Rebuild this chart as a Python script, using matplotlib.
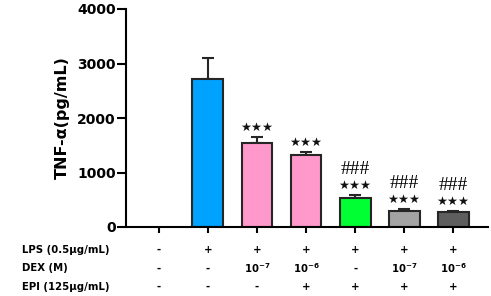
import matplotlib
matplotlib.use("Agg")
import matplotlib.pyplot as plt
import numpy as np

plt.rcParams['font.family'] = ['DejaVu Sans']
plt.rcParams['mathtext.fontset'] = 'dejavusans'

# data
means = [0, 2716, 1541, 1321, 538, 300, 270]
errors = [0, 385, 116, 49, 49, 36, 30]
colors = ['#FFFFFF', '#00A2FF', '#FF99CC', '#FF99CC', '#00FF33', '#A3A3A3', '#5E5E5E']
stars = ['', '', '★★★', '★★★', '★★★', '★★★', '★★★']
hashes = ['', '', '', '', '###', '###', '###']
row_names = ['LPS (0.5μg/mL)', 'DEX (M)', 'EPI (125μg/mL)']
lps = ['-', '+', '+', '+', '+', '+', '+']
dex = ['-', '-', r'$\mathbf{10^{-7}}$', r'$\mathbf{10^{-6}}$', '-', r'$\mathbf{10^{-7}}$', r'$\mathbf{10^{-6}}$']
epi = ['-', '-', '-', '+', '+', '+', '+']
yticks = [0, 1000, 2000, 3000, 4000]

fig = plt.figure(figsize=(4.91, 2.96), dpi=100)
ax = fig.add_axes([126/491, 69/296, (488-126)/491, 218/296])
x = np.arange(len(means))
mask = [i for i in x if means[i] > 0]
ax.bar([x[i] for i in mask], [means[i] for i in mask], width=0.63,
       color=[colors[i] for i in mask], edgecolor='#262626', linewidth=1.5, zorder=2)
ax.errorbar([x[i] for i in mask], [means[i] for i in mask],
            yerr=[[0]*len(mask), [errors[i] for i in mask]],
            fmt='none', ecolor='#262626', elinewidth=1.5, capsize=4, capthick=1.5, zorder=1)

for i in x:
    top = means[i] + errors[i]
    if stars[i]:
        ax.annotate(stars[i], (i, top), xytext=(0, 6.8), textcoords='offset points',
                    ha='center', va='center', fontsize=8.8, color='#111111')
    if hashes[i]:
        ax.annotate(hashes[i], (i, top), xytext=(0, 14.8), textcoords='offset points',
                    ha='center', va='baseline', fontsize=14, color='black',
                    family='Liberation Serif')

ax.set_xlim(-0.67, 6.71)
ax.set_ylim(0, 4000)
ax.set_yticks(yticks)
ax.set_yticklabels([str(v) for v in yticks], fontsize=10, fontweight='bold')
ax.set_xticks(x)
ax.set_xticklabels([])
ax.tick_params(axis='y', length=6.5, width=1.5, pad=1)
ax.tick_params(axis='x', length=4, width=1.5)
for s in ['top', 'right']:
    ax.spines[s].set_visible(False)
for s in ['left', 'bottom']:
    ax.spines[s].set_linewidth(1.5)
ax.set_ylabel('TNF-α(pg/mL)', fontsize=11.5, fontweight='bold', labelpad=5)

tr = ax.get_xaxis_transform()
row_y = [-0.105, -0.19, -0.275]
for r, (name, vals) in enumerate(zip(row_names, [lps, dex, epi])):
    fig.text(22/491, (69 + row_y[r]*218)/296, name, ha='left', va='center',
             fontsize=7.3, fontweight='bold')
    for i, v in enumerate(vals):
        ax.text(i, row_y[r], v, transform=tr, ha='center', va='center',
                fontsize=7.3, fontweight='bold', clip_on=False)

fig.savefig('out.png', dpi=100)
